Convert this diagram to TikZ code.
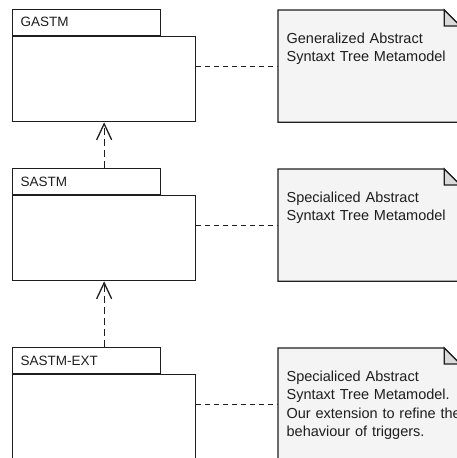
\documentclass[tikz,border=0pt]{standalone}
\usepackage{fontspec}
\setmainfont{Liberation Sans}
\usetikzlibrary{arrows.meta}
\definecolor{notebg}{RGB}{244,244,244}
\definecolor{foldbg}{RGB}{218,218,218}
\definecolor{ink}{RGB}{30,30,30}
\begin{document}
\begin{tikzpicture}[x=1pt,y=-1pt,line width=1.3pt,
  pkgbody/.style={draw=ink, minimum width=183pt, minimum height=85pt, inner sep=0pt, anchor=north west},
  pkgtab/.style={draw=ink, minimum width=148pt, minimum height=26pt, inner xsep=8pt, inner ysep=0pt,
    text width=132pt, align=left, anchor=south west, text=ink, font=\fontsize{13.5}{16}\selectfont},
  notebox/.style={minimum width=181pt, minimum height=111pt, inner sep=0pt, anchor=north west},
  notefill/.style={draw=ink, fill=notebg},
  foldfill/.style={draw=ink, fill=foldbg},
  notetext/.style={anchor=base west, text width=220pt, align=left, inner sep=0pt, text=ink,
    font=\fontsize{14.5}{18.3}\selectfont},
  trace/.style={draw=ink, dash pattern=on 5pt off 4pt},
  realize/.style={draw=ink, dash pattern=on 7pt off 4pt,
    -{Straight Barb[length=16pt,width=15pt,line width=1.3pt]}},
]
\useasboundingbox (0,0) rectangle (457,458);
\clip (0,0) rectangle (457,458);

% packages
\node[pkgbody] (gastm) at (12,36) {};
\node[pkgtab] (gastmtab) at (gastm.north west) {GASTM};
\node[pkgbody] (sastm) at (12,195) {};
\node[pkgtab] (sastmtab) at (sastm.north west) {SASTM};
\node[pkgbody] (sastmext) at (12,374) {};
\node[pkgtab] (sastmexttab) at (sastmext.north west) {SASTM-EXT};

% notes
\node[notebox] (n1) at (278,10) {};
\node[notebox] (n2) at (278,169) {};
\node[notebox] (n3) at (278,348) {};
\foreach \n in {n1,n2,n3}{
  \draw[notefill] (\n.north west) -- ([xshift=-16pt]\n.north east)
    -- ([yshift=-16pt]\n.north east) -- (\n.south east) -- (\n.south west) -- cycle;
  \draw[foldfill] ([xshift=-16pt]\n.north east) |- ([yshift=-16pt]\n.north east) -- cycle;
}
\node[notetext] (t1) at ([xshift=8pt,yshift=-33.5pt]n1.north west)
  {Generalized Abstract\\Syntaxt Tree Metamodel};
\node[notetext] (t2) at ([xshift=8pt,yshift=-33.5pt]n2.north west)
  {Specialiced Abstract\\Syntaxt Tree Metamodel};
\node[notetext] (t3) at ([xshift=8pt,yshift=-33.5pt]n3.north west)
  {Specialiced Abstract\\Syntaxt Tree Metamodel.\\Our extension to refine the\\behaviour of triggers.};

% note attachments
\draw[trace] (gastm.east |- n1.west) -- (n1.west);
\draw[trace] (sastm.east |- n2.west) -- (n2.west);
\draw[trace] (sastmext.east |- n3.west) -- (n3.west);

% dependencies between packages
\draw[realize] (sastmtab.north -| sastm.north) -- (gastm.south);
\draw[realize] (sastmexttab.north -| sastmext.north) -- (sastm.south);
\end{tikzpicture}
\end{document}
